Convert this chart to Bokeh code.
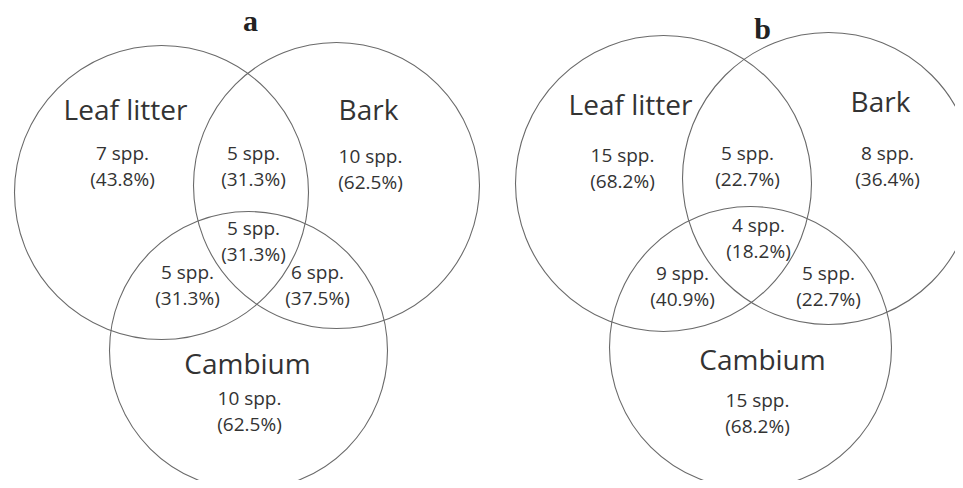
from bokeh.plotting import figure
from bokeh.models import ColumnDataSource, Range1d
from bokeh.core.properties import value
from bokeh.embed import file_html
from bokeh.resources import INLINE

# ---- data ----
panels = ["a", "b"]
set_names = ["Leaf litter", "Bark", "Cambium"]
regions = ["L", "LB", "B", "LBC", "LC", "BC", "C"]
counts_a = [7, 5, 10, 5, 5, 6, 10]
pct_a = [43.8, 31.3, 62.5, 31.3, 31.3, 37.5, 62.5]
counts_b = [15, 5, 8, 4, 9, 5, 15]
pct_b = [68.2, 22.7, 36.4, 18.2, 40.9, 22.7, 68.2]

# ---- layout (reference pixel coordinates) ----
circ_a = dict(x=[161, 336, 248], y=[192, 185, 350], r=[147, 143, 139])
circ_b = dict(x=[663, 828, 750], y=[183, 178, 347], r=[148, 146, 141])
name_pos_a = dict(x=[125, 368, 247], y=[108, 108, 362])
name_pos_b = dict(x=[630, 880, 762], y=[103, 100, 358])
reg_pos_a = dict(x=[122, 253, 370, 253, 187, 317, 249], y=[153, 153, 156, 228, 272, 272, 398])
reg_pos_b = dict(x=[622, 747, 887, 758, 682, 828, 757], y=[155, 153, 153, 225, 273, 273, 400])
title_pos = dict(x=[250, 762], y=[20, 28])

W, H = 955, 480
p = figure(width=W, height=H, output_backend="svg", toolbar_location=None,
           x_range=Range1d(0, W), y_range=Range1d(H, 0),
           min_border=0)
p.axis.visible = False
p.grid.visible = False
p.outline_line_color = None
p.background_fill_color = "white"

line_col = "#6a6a6a"
txt_col = "#333333"
FONT = value("Open Sans")

for circ, npos, rpos, counts, pcts in [
    (circ_a, name_pos_a, reg_pos_a, counts_a, pct_a),
    (circ_b, name_pos_b, reg_pos_b, counts_b, pct_b),
]:
    p.circle(x="x", y="y", radius="r", source=ColumnDataSource(circ),
             fill_color=None, line_color=line_col, line_width=1.1)
    p.text(x=npos["x"], y=npos["y"], text=set_names, text_font=FONT,
           text_font_size="28px", text_color=txt_col,
           text_align="center", text_baseline="middle")
    p.text(x=rpos["x"], y=[v - 1 for v in rpos["y"]],
           text=[f"{c} spp." for c in counts], text_font=FONT,
           text_font_size="19px", text_color=txt_col,
           text_align="center", text_baseline="middle")
    p.text(x=rpos["x"], y=[v + 25 for v in rpos["y"]],
           text=[f"({v:.1f}%)" for v in pcts], text_font=FONT,
           text_font_size="19px", text_color=txt_col,
           text_align="center", text_baseline="middle")

p.text(x=title_pos["x"], y=title_pos["y"], text=panels,
       text_font=value("Liberation Serif"), text_font_style="bold",
       text_font_size="30px", text_color="#222222",
       text_align="center", text_baseline="middle")

open("out.html", "w").write(file_html(p, INLINE))
